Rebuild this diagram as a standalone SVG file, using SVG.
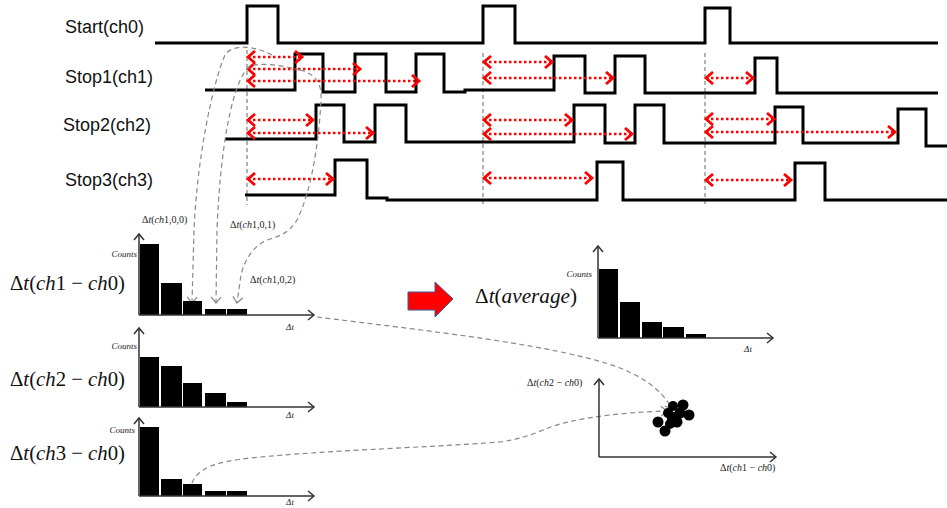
<svg xmlns="http://www.w3.org/2000/svg" width="947" height="508" viewBox="0 0 947 508">
<style>
.lbl{font-family:"Liberation Sans",Arial,sans-serif;font-size:18px;fill:#111}
.wave{fill:none;stroke:#000;stroke-width:3;stroke-linejoin:miter}
.guide{fill:none;stroke:#666;stroke-width:1;stroke-dasharray:4,3}
.red{fill:none;stroke:#f00;stroke-width:2.5;stroke-dasharray:2.5,2.5;marker-start:url(#rs);marker-end:url(#re)}
.conn{fill:none;stroke:#888;stroke-width:1.2;stroke-dasharray:5,3.5}
.axis{fill:none;stroke:#333;stroke-width:1.5;marker-end:url(#ax)}
.bar{fill:#000}
.math{font-family:"Liberation Serif","DejaVu Serif",serif;font-size:21px;fill:#111}
.it{font-style:italic}
.sm{font-family:"Liberation Serif","DejaVu Serif",serif;font-size:10px;fill:#222}
.cnt{font-family:"Liberation Serif","DejaVu Serif",serif;font-size:9px;font-style:italic;fill:#222}
</style>
<defs>
<marker id="re" markerUnits="userSpaceOnUse" markerWidth="12" markerHeight="14" refX="9" refY="7" orient="auto">
<path d="M2,1 L9,7 L2,13" fill="none" stroke="#f00" stroke-width="2.8"/>
</marker>
<marker id="rs" markerUnits="userSpaceOnUse" markerWidth="12" markerHeight="14" refX="9" refY="7" orient="auto-start-reverse">
<path d="M2,1 L9,7 L2,13" fill="none" stroke="#f00" stroke-width="2.8"/>
</marker>
<marker id="ax" markerUnits="userSpaceOnUse" markerWidth="12" markerHeight="12" refX="9" refY="6" orient="auto">
<path d="M3,1 L9,6 L3,11" fill="none" stroke="#333" stroke-width="1.5"/>
</marker>
<marker id="ga" markerUnits="userSpaceOnUse" markerWidth="12" markerHeight="12" refX="9" refY="6" orient="auto">
<path d="M3,1 L9,6 L3,11" fill="none" stroke="#888" stroke-width="1.2"/>
</marker>
</defs>

<g id="labels">
<text class="lbl" x="65" y="33">Start(ch0)</text>
<text class="lbl" x="65" y="83">Stop1(ch1)</text>
<text class="lbl" x="63" y="131">Stop2(ch2)</text>
<text class="lbl" x="65" y="186">Stop3(ch3)</text>
</g>

<g id="guides">
<line class="guide" x1="247" y1="50" x2="247" y2="205"/>
<line class="guide" x1="483" y1="53" x2="483" y2="205"/>
<line class="guide" x1="705" y1="53" x2="705" y2="205"/>
</g>

<g id="wave-ch0"><path class="wave" d="M155,43 H247 V6 H278 V43 H483 V6 H515 V43 H705 V8 H730 V43 H938"/></g>
<g id="wave-ch1"><path class="wave" d="M205,90 H295 V54 H323 V92 H355 V54 H386 V92 H416 V54 H444 V92 H465 V90 H554 V56 H585 V93 H615 V56 H645 V93 H755 V58 H777 V93 H938"/></g>
<g id="wave-ch2"><path class="wave" d="M225,139 H316 V105 H344 V142 H375 V105 H406 V142 H574 V105 H605 V143 H635 V105 H664 V143 H775 V107 H803 V143 H898 V109 H926 V146 H947"/></g>
<g id="wave-ch3"><path class="wave" d="M245,195 H335 V160 H367 V198 H387 V200 H597 V162 H623 V200 H795 V163 H825 V200 H947"/></g>

<g id="connectors">
<g id="intervals">
<line class="red" x1="248" y1="57" x2="302" y2="57"/>
<line class="red" x1="248" y1="69" x2="360" y2="69"/>
<line class="red" x1="248" y1="81" x2="419" y2="81"/>
<line class="red" x1="248" y1="120" x2="313" y2="120"/>
<line class="red" x1="248" y1="133" x2="373" y2="133"/>
<line class="red" x1="248" y1="179" x2="333" y2="179"/>
<line class="red" x1="484" y1="62" x2="552" y2="62"/>
<line class="red" x1="484" y1="78" x2="613" y2="78"/>
<line class="red" x1="484" y1="120" x2="572" y2="120"/>
<line class="red" x1="484" y1="134" x2="632" y2="134"/>
<line class="red" x1="484" y1="178" x2="592" y2="178"/>
<line class="red" x1="706" y1="78" x2="753" y2="78"/>
<line class="red" x1="706" y1="119" x2="774" y2="119"/>
<line class="red" x1="706" y1="132" x2="895" y2="132"/>
<line class="red" x1="706" y1="180" x2="791" y2="180"/>
</g>
<path class="conn" marker-end="url(#ga)" d="M272,55 C255,46 233,43 225,55 C212,85 197,160 194,230 L192,303"/>
<path class="conn" marker-end="url(#ga)" d="M300,70 C285,66 262,62 250,66 C232,80 220,150 217,230 L216,303"/>
<path class="conn" marker-end="url(#ga)" d="M300,70 C316,74 322,84 321,100 C319,140 312,190 297,220 C290,232 280,236 270,239 C255,244 245,258 241,275 L237,303"/>
<path class="conn" marker-end="url(#ga)" d="M317,317 C420,330 560,345 620,368 C650,380 664,394 672,409"/>
<path class="conn" marker-end="url(#ga)" d="M192,483 C198,468 215,462 250,458 C330,450 420,448 500,442 C530,438 545,428 560,424 C590,416 630,412 667,411"/>
</g>

<g id="hist-ch1">
<text class="math" x="10" y="290" textLength="115" lengthAdjust="spacingAndGlyphs">Δ<tspan class="it">t</tspan>(<tspan class="it">ch</tspan>1 − <tspan class="it">ch</tspan>0)</text>
<rect class="bar" x="140" y="244" width="19" height="71"/>
<rect class="bar" x="161" y="283" width="21" height="32"/>
<rect class="bar" x="183" y="301" width="19" height="14"/>
<rect class="bar" x="205" y="309" width="21" height="6"/>
<rect class="bar" x="227" y="309" width="20" height="6"/>
<path class="axis" d="M139,315 V234"/>
<path class="axis" d="M139,315 H314"/>
<text class="cnt" x="137" y="257" text-anchor="end">Counts</text>
<text class="cnt" x="290" y="330" text-anchor="middle">Δt</text>
<text class="sm" x="142" y="223">Δ<tspan font-style="italic">t</tspan>(<tspan font-style="italic">ch</tspan>1,0,0)</text>
<text class="sm" x="230" y="228">Δ<tspan font-style="italic">t</tspan>(<tspan font-style="italic">ch</tspan>1,0,1)</text>
<text class="sm" x="250" y="283">Δ<tspan font-style="italic">t</tspan>(<tspan font-style="italic">ch</tspan>1,0,2)</text>
</g>

<g id="hist-ch2">
<text class="math" x="10" y="386" textLength="115" lengthAdjust="spacingAndGlyphs">Δ<tspan class="it">t</tspan>(<tspan class="it">ch</tspan>2 − <tspan class="it">ch</tspan>0)</text>
<rect class="bar" x="140" y="357" width="19" height="50"/>
<rect class="bar" x="161" y="366" width="21" height="41"/>
<rect class="bar" x="183" y="383" width="19" height="24"/>
<rect class="bar" x="205" y="393" width="21" height="14"/>
<rect class="bar" x="227" y="402" width="20" height="5"/>
<path class="axis" d="M139,407 V328"/>
<path class="axis" d="M139,407 H314"/>
<text class="cnt" x="137" y="349" text-anchor="end">Counts</text>
<text class="cnt" x="290" y="418" text-anchor="middle">Δt</text>
</g>

<g id="hist-ch3">
<text class="math" x="10" y="460" textLength="115" lengthAdjust="spacingAndGlyphs">Δ<tspan class="it">t</tspan>(<tspan class="it">ch</tspan>3 − <tspan class="it">ch</tspan>0)</text>
<rect class="bar" x="140" y="427" width="19" height="69"/>
<rect class="bar" x="161" y="479" width="21" height="17"/>
<rect class="bar" x="183" y="484" width="19" height="12"/>
<rect class="bar" x="205" y="491" width="21" height="5"/>
<rect class="bar" x="227" y="491" width="20" height="5"/>
<path class="axis" d="M139,496 V418"/>
<path class="axis" d="M139,496 H314"/>
<text class="cnt" x="135" y="433" text-anchor="end">Counts</text>
<text class="cnt" x="290" y="505" text-anchor="middle" font-size="8">Δt</text>
</g>

<g id="block-arrow">
<polygon points="408,292 435,292 435,282 453,299 435,317 435,310 408,310" fill="#f00" stroke="#3c5a96" stroke-width="1"/>
</g>

<g id="hist-average">
<text class="math" x="475" y="303" textLength="102" lengthAdjust="spacingAndGlyphs">Δ<tspan class="it">t</tspan>(<tspan class="it">average</tspan>)</text>
<rect class="bar" x="599" y="269" width="19" height="69"/>
<rect class="bar" x="620" y="302" width="20" height="36"/>
<rect class="bar" x="642" y="322" width="20" height="16"/>
<rect class="bar" x="663" y="327" width="21" height="11"/>
<rect class="bar" x="686" y="334" width="20" height="4"/>
<path class="axis" d="M598,338 V246"/>
<path class="axis" d="M598,338 H773"/>
<text class="cnt" x="592" y="277" text-anchor="end">Counts</text>
<text class="cnt" x="748" y="352" text-anchor="middle">Δt</text>
</g>

<g id="scatter">
<path class="axis" d="M599,457 V379"/>
<path class="axis" d="M599,457 H776"/>
<text class="sm" x="527" y="386" font-size="9">Δ<tspan font-style="italic">t</tspan>(<tspan font-style="italic">ch</tspan>2 − <tspan font-style="italic">ch</tspan>0)</text>
<text class="sm" x="720" y="471" font-size="9">Δ<tspan font-style="italic">t</tspan>(<tspan font-style="italic">ch</tspan>1 − <tspan font-style="italic">ch</tspan>0)</text>
<g fill="#000">
<circle cx="658" cy="422" r="5.5"/>
<circle cx="665" cy="431" r="5.5"/>
<circle cx="673" cy="406" r="5"/>
<circle cx="683" cy="405" r="5.5"/>
<circle cx="689" cy="415" r="5.5"/>
<circle cx="677" cy="422" r="5.5"/>
<circle cx="672" cy="417" r="5.5"/>
<circle cx="680" cy="413" r="5.5"/>
<circle cx="668" cy="413" r="5"/>
<circle cx="670" cy="424" r="5"/>
</g>
</g>
</svg>
